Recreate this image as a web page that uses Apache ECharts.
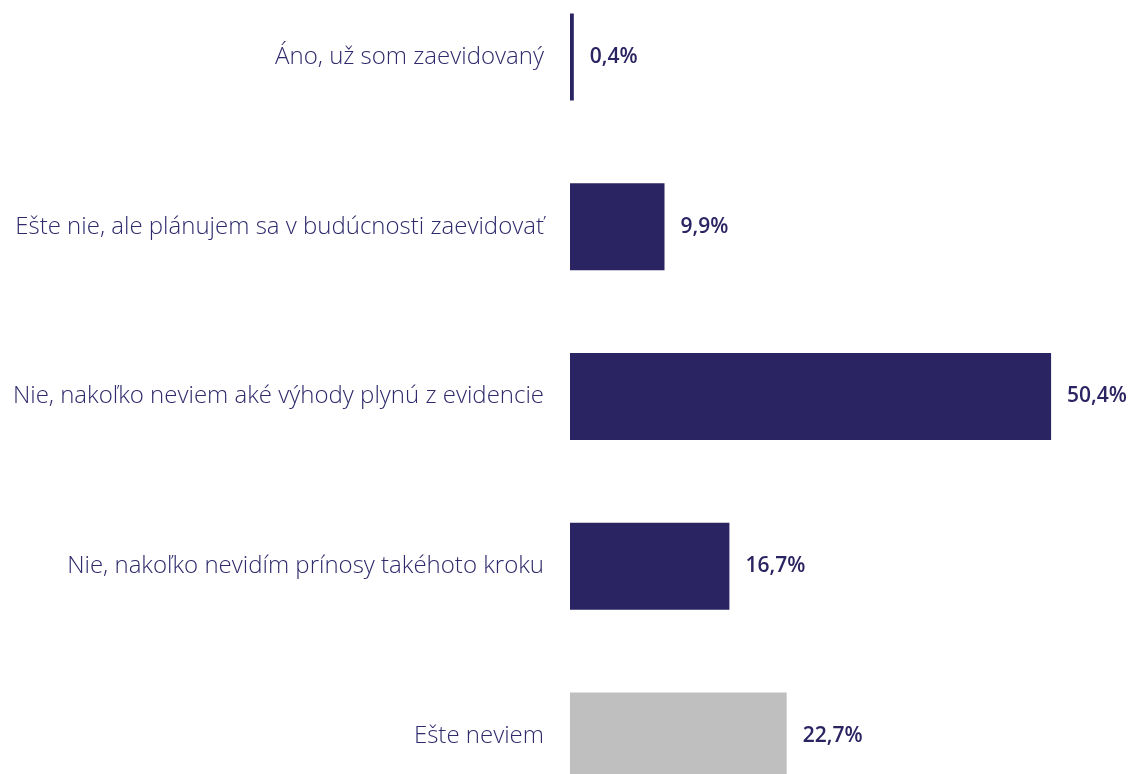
<!DOCTYPE html>
<html><head><meta charset="utf-8">
<script src="https://cdn.jsdelivr.net/npm/echarts@6/dist/echarts.min.js"></script>
<style>html,body{margin:0;padding:0;background:#fff}#c{width:1130px;height:774px}</style>
</head><body><div id="c"></div>
<script>
const categories = [
  "Áno, už som zaevidovaný",
  "Ešte nie, ale plánujem sa v budúcnosti zaevidovať",
  "Nie, nakoľko neviem aké výhody plynú z evidencie",
  "Nie, nakoľko nevidím prínosy takéhoto kroku",
  "Ešte neviem"
];
const values = [0.4, 9.9, 50.4, 16.7, 22.7];
const barColors = ["#2A2462", "#2A2462", "#2A2462", "#2A2462", "#BFBFBF"];

const chart = echarts.init(document.getElementById('c'));
chart.setOption({
  animation: false,
  grid: { left: 570, width: 525, top: 57, height: 679 },
  xAxis: { type: 'value', min: 0, max: 55, show: false },
  yAxis: {
    type: 'category', data: categories, inverse: true, boundaryGap: false,
    axisLine: { show: false }, axisTick: { show: false }, splitLine: { show: false },
    axisLabel: { margin: 26, fontFamily: 'Open Sans', fontSize: 24, fontWeight: 300, color: '#2E2A6B' }
  },
  series: [{
    type: 'bar',
    data: values.map((v, i) => ({ value: v, itemStyle: { color: barColors[i] } })),
    barWidth: 87,
    label: {
      show: true, position: 'right', distance: 16,
      fontFamily: 'Open Sans', fontSize: 21, fontWeight: 600, color: '#2A2462',
      formatter: p => p.value.toFixed(1).replace('.', ',') + '%'
    }
  }]
});
</script></body></html>
